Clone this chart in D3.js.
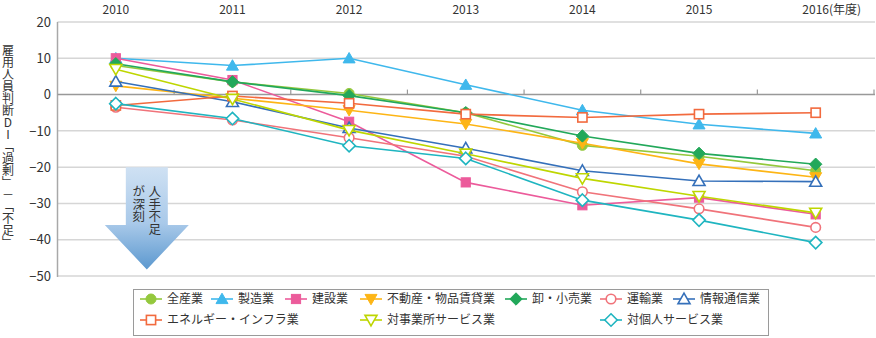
<!DOCTYPE html>
<html><head><meta charset="utf-8">
<script src="https://cdn.jsdelivr.net/npm/d3@7/dist/d3.min.js"></script>
<style>
body{margin:0;background:#fff;}
text{font-family:"Noto Sans CJK JP","Noto Sans",sans-serif;fill:#333;}
</style></head>
<body><svg id="c" width="876" height="338"></svg>
<script>
const years = ["2010","2011","2012","2013","2014","2015","2016"];
const yTicks = [20,10,0,-10,-20,-30,-40,-50];
const seriesNames = ["全産業","製造業","建設業","不動産・物品賃貸業","卸・小売業","運輸業","情報通信業","エネルギー・インフラ業","対事業所サービス業","対個人サービス業"];
const zensangyo   = [8, 3.5, 0.3, -5, -14, -17, -21];
const seizo       = [10, 8, 10, 2.7, -4.3, -8.2, -10.7];
const kensetsu    = [10, 4, -7.5, -24.2, -30.5, -28.4, -33];
const fudosan     = [2.4, -1, -4.3, -8.1, -13.4, -19.1, -22.8];
const oroshi      = [8.5, 3.5, -0.3, -5, -11.4, -16.2, -19.2];
const unyu        = [-3.5, -7, -11.9, -17, -26.8, -31.5, -36.6];
const joho        = [3.6, -2, -9.2, -14.8, -21, -23.8, -24];
const energy      = [-3, -0.4, -2.4, -5.4, -6.3, -5.4, -5.0];
const taijigyo    = [7, -1.2, -9.8, -16.3, -23.1, -28, -32.6];
const taikojin    = [-2.5, -6.6, -14.1, -17.6, -29.1, -34.6, -40.8];
const seriesValues = [zensangyo, seizo, kensetsu, fudosan, oroshi, unyu, joho, energy, taijigyo, taikojin];

// styles
const colors = ["#94C83D","#3FB8EC","#EC5B9B","#FDB515","#22A85A","#F0737A","#3570BA","#F26A3E","#BED600","#1FB5C0"];
const shapes = ["circle","triangle","square","triangleDown","diamond","circle","triangle","square","triangleDown","diamond"];
const filled = [true,true,true,true,true,false,false,false,false,false];
const legendPos = [[140,299],[211,299],[285,299],[360,299],[505,299],[600,299],[673,299],[140,320],[360,320],[600,320]];

const svg = d3.select("#c");
const x = d3.scaleBand().domain(years).range([57.5, 874]);
const y = d3.scaleLinear().domain([-50, 20]).range([276, 22]);
const cx = d => x(d) + x.bandwidth()/2;

// gridlines
svg.append("g").selectAll("line").data(yTicks.filter(d=>d!==0)).join("line")
  .attr("x1",57.5).attr("x2",875).attr("y1",d=>y(d)).attr("y2",d=>y(d))
  .attr("stroke","#d6d6d6").attr("stroke-width",1.5);

// y axis line
svg.append("line").attr("x1",57.5).attr("x2",57.5).attr("y1",y(20)).attr("y2",y(-50)+1)
  .attr("stroke","#a8a8a8").attr("stroke-width",1.5);
// zero line
svg.append("line").attr("x1",57.5).attr("x2",875).attr("y1",y(0)).attr("y2",y(0))
  .attr("stroke","#999").attr("stroke-width",1.5);
// category boundary ticks
const bounds = years.slice(1).map(d=>x(d)).concat([x.range()[1]]);
svg.append("g").selectAll("line").data(bounds).join("line")
  .attr("x1",d=>d).attr("x2",d=>d).attr("y1",y(0)).attr("y2",y(0)-5)
  .attr("stroke","#999").attr("stroke-width",1.2);

// y tick labels
svg.append("g").selectAll("text").data(yTicks).join("text")
  .attr("x",51).attr("y",d=>y(d)).attr("dy","0.36em").attr("text-anchor","end")
  .attr("font-size",13).text(d=>d<0?"−"+Math.abs(d):d);

// x labels at top
const xl = svg.append("g");
years.forEach((yr,i)=>{
  const t = xl.append("text").attr("y",13.5).attr("font-size",12).text(yr);
  const w = t.node().getComputedTextLength();
  t.attr("x",cx(yr)-w/2);
  if(i===years.length-1){ t.append("tspan").text("(年度)"); }
});

// y title vertical
svg.append("text").attr("x",8).attr("y",44).attr("font-size",12)
  .style("writing-mode","vertical-rl").style("text-orientation","upright")
  .text("雇用人員判断DI「過剰」－「不足」");

// arrow
const defs = svg.append("defs");
const grad = defs.append("linearGradient").attr("id","ag").attr("x1",0).attr("y1",0).attr("x2",0).attr("y2",1);
grad.append("stop").attr("offset","0%").attr("stop-color","#cfe1f3");
grad.append("stop").attr("offset","55%").attr("stop-color","#a9c9e9");
grad.append("stop").attr("offset","100%").attr("stop-color","#5b98cf");
const ax = cx("2010")+31, aTop = y(-20), aNeck = 225, aTip = 269.5;
svg.append("path").attr("fill","url(#ag)")
  .attr("d",`M${ax-21},${aTop} L${ax+21},${aTop} L${ax+21},${aNeck} L${ax+42},${aNeck} L${ax},${aTip} L${ax-42},${aNeck} L${ax-21},${aNeck} Z`);
svg.append("text").attr("x",ax+8).attr("y",185).attr("font-size",12.5)
  .style("writing-mode","vertical-rl").style("text-orientation","upright").text("人手不足");
svg.append("text").attr("x",ax-8).attr("y",185).attr("font-size",12.5)
  .style("writing-mode","vertical-rl").style("text-orientation","upright").text("が深刻");

// marker drawing
function marker(g, shape, color, fill, px, py){
  const sw = fill?1:1.6, f = fill?color:"#fff";
  let el;
  if(shape==="circle") el = g.append("circle").attr("cx",px).attr("cy",py).attr("r",fill?5:4.8);
  else if(shape==="square") el = g.append("rect").attr("x",px-4.6).attr("y",py-4.6).attr("width",9.2).attr("height",9.2);
  else if(shape==="triangle") el = g.append("path").attr("d",`M${px},${py-5.8} L${px+6},${py+4.6} L${px-6},${py+4.6} Z`);
  else if(shape==="triangleDown") el = g.append("path").attr("d",`M${px},${py+5.8} L${px+6},${py-4.6} L${px-6},${py-4.6} Z`);
  else if(shape==="diamond") el = g.append("path").attr("d",`M${px},${py-6.2} L${px+6.2},${py} L${px},${py+6.2} L${px-6.2},${py} Z`);
  el.attr("fill",f).attr("stroke",color).attr("stroke-width",sw);
}

const line = d3.line().x((d,i)=>cx(years[i])).y(d=>y(d));
seriesValues.forEach((vals,s)=>{
  const g = svg.append("g");
  g.append("path").attr("d",line(vals)).attr("fill","none").attr("stroke",colors[s]).attr("stroke-width",1.6);
  vals.forEach((v,i)=>marker(g, shapes[s], colors[s], filled[s], cx(years[i]), y(v)));
});

// legend
svg.append("rect").attr("x",133.5).attr("y",289.5).attr("width",635).attr("height",46)
  .attr("fill","#fff").attr("stroke","#9a9a9a").attr("stroke-width",1);
seriesNames.forEach((n,s)=>{
  const [lx,ly] = legendPos[s];
  const g = svg.append("g");
  g.append("line").attr("x1",lx).attr("x2",lx+22).attr("y1",ly).attr("y2",ly).attr("stroke",colors[s]).attr("stroke-width",1.6);
  marker(g, shapes[s], colors[s], filled[s], lx+11, ly);
  g.append("text").attr("x",lx+27).attr("y",ly).attr("dy","0.36em").attr("font-size",12).text(n);
});
</script></body></html>
